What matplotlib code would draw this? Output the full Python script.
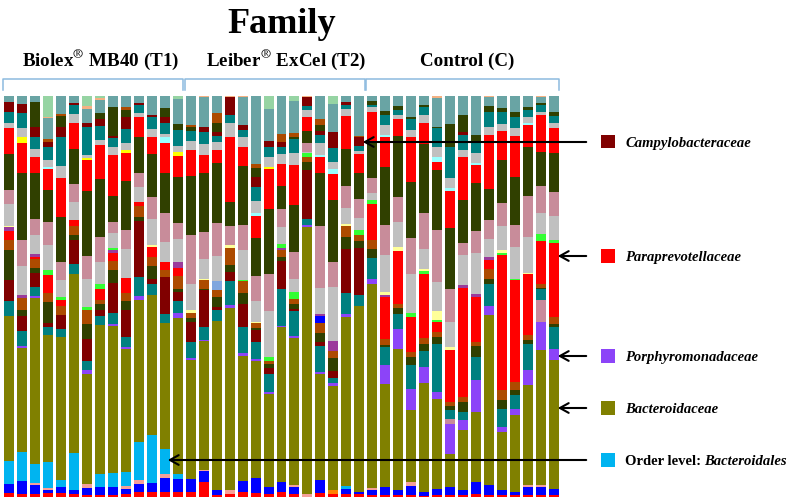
import numpy as np
import matplotlib
matplotlib.use("Agg")
import matplotlib.pyplot as plt
from matplotlib.patches import Rectangle, FancyArrowPatch
from matplotlib.lines import Line2D

plt.rcParams['font.family'] = ['Liberation Serif', 'DejaVu Serif']
plt.rcParams['mathtext.fontset'] = 'stix'

# ---------------- data (relative abundance read per sample, normalised to 100 %) -------------
groups = ['Biolex$^{\\circledR}$ MB40 (T1)', 'Leiber$^{\\circledR}$ ExCel (T2)', 'Control (C)']
group_sizes = [14, 14, 15]

red_base = [3, 2.7, 2.7, 3.3, 3.3, 2, 1, 1, 1, 2, 4.3, 4.3, 4.3, 4.3] + \
           [4.3, 14.3, 1, 2, 4.3, 3.3, 2.7, 4.3, 2.7, 0, 3.3, 2, 2.7, 2] + \
           [1, 1, 1, 1, 1, 1, 1, 1, 2, 1, 1, 1, 1, 1, 1]
blue_base = [9.3, 12.6, 8.3, 2.7, 6, 4.7, 7.7, 8.3, 8.3, 5.7, 7.7, 9, 14.4, 13.4] + \
            [13.4, 11, 5, 0, 11, 15.4, 7.3, 10, 6.6, 0, 12.7, 0, 5, 2.3] + \
            [5, 8.3, 5, 9, 3.3, 6.7, 8.3, 5, 12.3, 10, 5, 3.3, 8.3, 8.3, 6.7]
orange_base = [0] * 14 + [0] * 11 + [4.7, 0, 0] + [0] * 15
salmon_base = [0, 0, 2.3, 2.7, 0, 0, 3.3, 0, 0, 2.3, 4, 0, 3.3, 0] + \
              [0, 1.3, 0, 4, 0, 0, 0, 0, 1.7, 2.7, 0, 0, 0, 0] + \
              [2.7, 0, 0, 4.3, 0, 0, 0, 0, 0, 0, 0, 0, 1.7, 1.7, 0]
bacteroidales = [23.3, 29, 19.4, 25.6, 7.4, 36.6, 0, 12.7, 14, 14.3, 38.3, 48.4, 25, 4.3] + \
                [0] * 12 + [2.3, 0] + [0] * 15
bacteroidaceae = [144.7, 104.4, 165, 126.7, 142.6, 179.4, 110, 149, 146.7, 123.4, 141.7, 139.3, 126.3, 156.7] + \
                 [118.3, 128.6, 169.3, 182.7, 124.7, 116.6, 92.7, 155, 146.7, 266.6, 105, 102.6, 168.7, 185] + \
                 [203.3, 103.4, 141.7, 71.7, 109, 90, 33.4, 60, 70, 170, 58.3, 76.7, 100, 135, 128.3]
porphyromonadaceae = [0, 2.3, 2.3, 0, 0, 0, 4, 0, 2, 1.7, 4, 0, 0, 4.6] + \
                     [1.7, 1.3, 0, 2.3, 3.3, 1.4, 1.6, 1.7, 1.6, 1.7, 1.7, 3.4, 3.3, 0] + \
                     [5.7, 18.3, 20, 21.7, 16, 6.6, 29.3, 10, 32.4, 9, 5, 6.7, 15, 28.3, 11.7]
mauve_low = [0] * 28 + [0, 0, 0, 0, 0, 0, 5.7, 0, 0, 0, 0, 0, 0, 21.7, 0]
teal_low = [15.3, 15, 8.7, 8.3, 7.7, 10, 9.3, 9, 11.3, 10, 19.3, 11, 9.4, 12] + \
           [16.6, 12.6, 11.4, 24.3, 26, 17.6, 18.4, 36.7, 25, 5.7, 26, 5, 20.7, 11.7] + \
           [21, 18.3, 15, 23.3, 16, 48.4, 8.3, 8.3, 22.6, 22, 18.4, 13.3, 26.7, 11.7, 21.6]
maroon_low = [20, 14.3, 14, 4, 14, 23.3, 22.4, 6, 30, 27.4, 56, 5.7, 36.6, 9] + \
             [19.4, 36.7, 2.6, 9, 22.7, 11.7, 6, 28.3, 2.4, 49.3, 4, 6.6, 44, 46.7] + [0] * 15
dkgreen_low = [30, 6.7, 5, 21, 0, 5, 15, 6, 12.7, 8.6, 4, 12.3, 0, 3.4] + \
              [4, 1.7, 10, 6.7, 11.3, 1.7, 4, 3.3, 4.3, 8.3, 8.3, 13.4, 12, 6.6] + \
              [8, 1.7, 6, 8.3, 7.4, 6.6, 4, 10, 10.7, 5.7, 9, 5, 3.3, 1, 3.4]
brown_low = [10.7, 11.7, 9, 9, 9, 9, 13.3, 4, 9.3, 7.4, 10.7, 9.3, 6.7, 12.3] + \
            [5.6, 9, 6.7, 16.7, 12, 5, 3.3, 7.4, 5.7, 5, 10, 6.6, 10.6, 6.7] + \
            [9.3, 6.7, 4, 5, 6, 5, 4.3, 5, 4.3, 10, 9.3, 8.3, 5, 3.3, 6.6]
paraprevotellaceae = [8.3, 0, 2.7, 17.7, 6.7, 6, 0, 11.7, 7.4, 15, 4.3, 9.4, 8.3, 8.7] + [0] * 14 + \
                     [36, 41.6, 52.6, 35, 64, 10, 52.4, 109.4, 45, 9, 135, 101.7, 61, 43.3, 73.4]
blue_mid = [0] * 14 + [0] * 10 + [7.3, 0, 0, 0] + [0] * 15
purple_mid = [4, 3.3, 2.7, 0, 0, 0, 0, 0, 3.3, 0, 0, 0, 0, 5.6] + \
             [0, 0, 0, 0, 0, 0, 0, 2, 0, 0, 1.7, 10, 0, 0] + \
             [0, 1.7, 0, 0, 0, 0, 0, 2.3, 3.4, 2.6, 0, 0, 0, 0, 0]
green_mid = [0, 0, 0, 5, 2.7, 0, 3.3, 4.3, 1.7, 0, 0, 0, 0, 0] + \
            [0, 0, 0, 0, 1.4, 0, 3.4, 4, 6.6, 3.4, 0, 0, 0, 5] + \
            [4, 0, 0, 4, 3.3, 2.4, 0, 0, 0, 0, 1.7, 1.7, 0, 6.7, 3.3]
yellow_mid = [1, 0, 0, 0, 0, 0, 0, 0, 0, 0, 0, 2.3, 0, 0] + \
             [2.7, 1, 0, 3.3, 0, 1.6, 0, 0, 0, 0, 0, 0, 1.7, 0] + \
             [0, 3.3, 3.4, 0, 1.7, 8.6, 2.6, 0, 0, 0, 3.3, 0, 1.3, 0, 0]
steelblue_mid = [0] * 14 + [0, 0, 9.3] + [0] * 11 + [0] * 15
gray_mid = [22.3, 29, 18.7, 25, 16.7, 18.3, 28.4, 22.3, 15.6, 29, 15, 25.7, 19.9, 22.4] + \
           [25.7, 20, 24.7, 0, 29.3, 20, 46.6, 16.6, 12.4, 1.6, 25, 53.4, 16.7, 11.7] + \
           [7.3, 36.7, 25.6, 39.4, 20, 29, 25, 30, 40, 17.4, 24, 31, 35.4, 20.7, 24]
pink_mid = [14, 26, 16.7, 23.3, 18.3, 17.7, 22.3, 25, 11, 19.3, 14, 22, 29, 16.6] + \
           [49.3, 26.6, 32.7, 19, 25, 25, 36.7, 18.4, 27.6, 8.4, 61.7, 25, 21.6, 18.3] + \
           [14.4, 30, 25, 35, 36.6, 51.7, 33.4, 11.7, 22.6, 19.3, 22.7, 22.3, 41.3, 27.3, 24.3]
dkgreen_mid = [36, 66.7, 45, 31.7, 45, 34.7, 65.3, 57.4, 25.7, 49.3, 36, 43.3, 40, 46] + \
              [58.3, 58.4, 60, 24.3, 59, 38.4, 65, 23.3, 46.7, 12.6, 52.3, 61.7, 36.7, 26.7] + \
              [35, 58.3, 60.7, 56.6, 68.7, 60, 60, 43.3, 48, 30.7, 43.3, 47.7, 49.3, 34.3, 38.4]
red_top = [26, 30, 16.6, 20.7, 38.4, 26, 30.7, 34, 40.7, 28, 20, 16.7, 30, 20.7] + \
          [26, 18.3, 13.3, 65, 19.3, 21.6, 40, 21.7, 39, 14, 15.4, 26, 33.3, 18.3] + \
          [31.6, 30, 16.7, 44.4, 20.7, 8.3, 37.6, 43.3, 17.7, 54.3, 29.3, 41.3, 21.7, 36.7, 25]
yellow_top = [0, 6, 0, 0, 0, 0, 1.7, 0, 0, 2.7, 0, 0, 0, 4.3] + \
             [0, 0, 0, 0, 0, 0, 1.7, 0, 0, 0, 0, 0, 0, 0] + [0] * 15
cyan_top = [0, 0, 0, 2.6, 0, 0, 0, 0, 0, 0, 0, 0, 5.3, 0] + \
           [0, 0, 0, 0, 0, 3.4, 0, 0, 0, 0, 2.3, 4.7, 0, 0] + \
           [0, 1.7, 0, 0, 0, 5, 2.4, 0, 1.7, 0, 0, 0, 1.7, 0, 0]
gray_top = [5.3, 9.6, 7.4, 6.7, 12.3, 9, 3.3, 5.3, 8.6, 7.3, 4, 8, 3.4, 5.7] + \
           [9.3, 11, 8.3, 13.4, 10, 11.6, 10, 9.9, 12, 6.7, 11.7, 6.6, 6.7, 3.3] + \
           [4.4, 10, 4.3, 7.3, 8.4, 10, 10, 6.7, 10, 7.7, 6.7, 7.7, 6, 3.3, 5]
teal_top = [10.3, 15, 12.6, 13.3, 28.7, 9.3, 28.3, 14, 8.4, 13.4, 7.7, 12, 11.3, 16] + \
           [9.7, 12.3, 5.7, 8.3, 6.7, 14.4, 10, 6.7, 14, 4, 8.3, 14.4, 4, 5] + \
           [2.3, 10, 5, 11, 8.3, 18.4, 31.6, 15, 11.6, 15.6, 12.3, 11.6, 7.3, 6.7, 7.3]
campylobacteraceae = [10.7, 8.7, 9.4, 5, 10.6, 2.3, 4, 6.7, 2.3, 12, 1.7, 2.3, 5.4, 0] + \
                     [0, 5, 4.3, 18.3, 5, 10, 6.6, 5, 0, 9.3, 4, 15.6, 3.3, 8.4] + \
                     [0, 0, 0, 0, 0, 0, 0, 3.3, 0, 0, 0, 0, 0, 0, 0]
dkgreen_top = [0, 0, 25.6, 0, 10.7, 0, 0, 6.6, 28.7, 7.3, 0, 0, 9, 6] + \
              [3.7, 0, 8.4, 0, 0, 9, 0, 0, 2.7, 0, 5, 0, 0, 0] + \
              [4.3, 4.3, 4, 2.3, 1.7, 1.6, 22.7, 16.7, 6.7, 5.7, 3.4, 5, 2.7, 2.3, 4.3]
brown_top = [0, 0, 0, 2.3, 2, 0, 0, 0, 0, 2.7, 0, 0, 0, 0] + \
            [2.3, 0, 10, 0, 0, 3.3, 0, 8.3, 4, 0, 6, 0, 0, 1.6] + [0] * 15
tealgray_top = [5.3, 8.3, 6, 21.6, 18.3, 7, 13.4, 12.7, 11.6, 11.6, 7.6, 19.3, 12.6, 24.7] + \
               [29.3, 29.4, 17.6, 0, 27.7, 68.3, 31.7, 38.3, 31.6, 0, 23.3, 27.7, 6, 40] + \
               [5, 15, 10.3, 21, 9.3, 29, 28.3, 19.3, 39.3, 8.7, 12.6, 16, 11.6, 5.4, 16]
salmon_top = [0.5, 0, 0, 1, 0, 0, 3.3, 2, 0, 0, 0, 0, 0, 0] + \
             [0, 1.6, 0, 1, 1.6, 0, 0, 0, 0, 1, 0, 0, 0, 0] + \
             [0, 0, 0, 0, 0, 2, 0, 0, 0, 1.6, 0, 0, 0, 1.6, 0]
lightgreen_top = [0, 0, 0, 21, 0, 0, 10.3, 2.3, 0, 0, 0, 0, 0, 3.6] + \
                 [0, 0, 0, 0, 0, 0, 13.3, 0, 5, 0, 0, 8.3, 0, 0] + [0] * 15

legend_names = ['Campylobacteraceae', 'Paraprevotellaceae', 'Porphyromonadaceae',
                'Bacteroidaceae', 'Bacteroidales']

# stacking order, bottom to top, with colours
stack = [
    (red_base, '#FF0000'), (blue_base, '#0000FF'), (orange_base, '#FF8000'),
    (salmon_base, '#F5A09A'), (bacteroidales, '#00B4F0'), (bacteroidaceae, '#808000'),
    (porphyromonadaceae, '#8C44F8'), (mauve_low, '#C98A9B'), (teal_low, '#008080'),
    (maroon_low, '#800000'), (dkgreen_low, '#304000'), (brown_low, '#AD4B00'),
    (paraprevotellaceae, '#FF0000'), (blue_mid, '#0000FF'), (purple_mid, '#9B3A9B'),
    (green_mid, '#33FF33'), (yellow_mid, '#FFFF99'), (steelblue_mid, '#7FA6DE'),
    (gray_mid, '#C0C0C0'), (pink_mid, '#C88C9A'), (dkgreen_mid, '#304000'),
    (red_top, '#FF0000'), (yellow_top, '#FFFF00'), (cyan_top, '#99FFFF'),
    (gray_top, '#C0C0C0'), (teal_top, '#008080'), (campylobacteraceae, '#800000'),
    (dkgreen_top, '#304000'), (brown_top, '#AD4B00'), (tealgray_top, '#69A4A4'),
    (salmon_top, '#F4B183'), (lightgreen_top, '#96D4A3'),
]

# ---------------- figure ----------------
W, H = 788, 500
fig = plt.figure(figsize=(W / 100, H / 100), dpi=100)


def fx(px):
    return px / W


def fy(py):
    return 1 - py / H


ax = fig.add_axes([fx(2.5), fy(496.5), fx(560.5) - fx(2.5), fy(95.7) - fy(496.5)])
n = sum(group_sizes)
xs = np.arange(n)
totals = np.sum([np.array(v, float) for v, _ in stack], axis=0)
bottom = np.zeros(n)
for vals, col in stack:
    v = np.array(vals, float) / totals * 100
    ax.bar(xs, v, width=0.77, bottom=bottom, color=col, linewidth=0)
    bottom += v
ax.set_xlim(-0.5, n - 0.5)
ax.set_ylim(0, 100)
ax.axis('off')

# title
fig.text(fx(282), fy(33), 'Family', ha='center', va='baseline',
         fontsize=26, fontweight='bold')

# group brackets and labels
label_x = [101, 286, 467]
start = 0
for g, size, lx in zip(groups, group_sizes, label_x):
    x0 = ax.transData.transform((start - 0.4, 0))[0] / 100 * 100
    x1 = ax.transData.transform((start + size - 0.6, 0))[0]
    x0 = ax.transData.transform((start - 0.45, 0))[0]
    y_top, y_bot = 78.5, 90
    fig.add_artist(Line2D([fx(x0), fx(x0), fx(x1), fx(x1)],
                          [fy(y_bot), fy(y_top), fy(y_top), fy(y_bot)],
                          transform=fig.transFigure, color='#8DBBDF', lw=1.1,
                          solid_joinstyle='round'))
    fig.text(fx(lx), fy(66), g, ha='center', va='baseline', fontsize=13.7,
             fontweight='bold')
    start += size

# legend squares, labels and arrows
leg_y = [142, 256, 356, 408, 460]
leg_col = ['#800000', '#FF0000', '#8C44F8', '#808000', '#00B4F0']
tip_x = [360, 555, 555, 555, 165]
for name, yy, col, tx in zip(legend_names, leg_y, leg_col, tip_x):
    fig.add_artist(Rectangle((fx(601), fy(yy + 6.5)), fx(13.5), 13.5 / H,
                             transform=fig.transFigure, facecolor=col,
                             edgecolor='none'))
    fig.add_artist(FancyArrowPatch((fx(589), fy(yy)), (fx(tx), fy(yy)),
                                   transform=fig.transFigure,
                                   arrowstyle='->,head_length=0.45,head_width=0.25',
                                   mutation_scale=14, lw=1.5, color='black'))
    if name == 'Bacteroidales':
        t = fig.text(fx(625), fy(yy + 5), 'Order level: ', ha='left', va='baseline',
                     fontsize=10.5, fontweight='bold')
        fig.canvas.draw()
        bb = t.get_window_extent()
        fig.text(bb.x1 / W, fy(yy + 5), name, ha='left', va='baseline',
                 fontsize=10.5, fontweight='bold', style='italic')
    else:
        fig.text(fx(625), fy(yy + 5), name, ha='left', va='baseline',
                 fontsize=10.5, fontweight='bold', style='italic')

fig.savefig('out.png', dpi=100, facecolor='white')
